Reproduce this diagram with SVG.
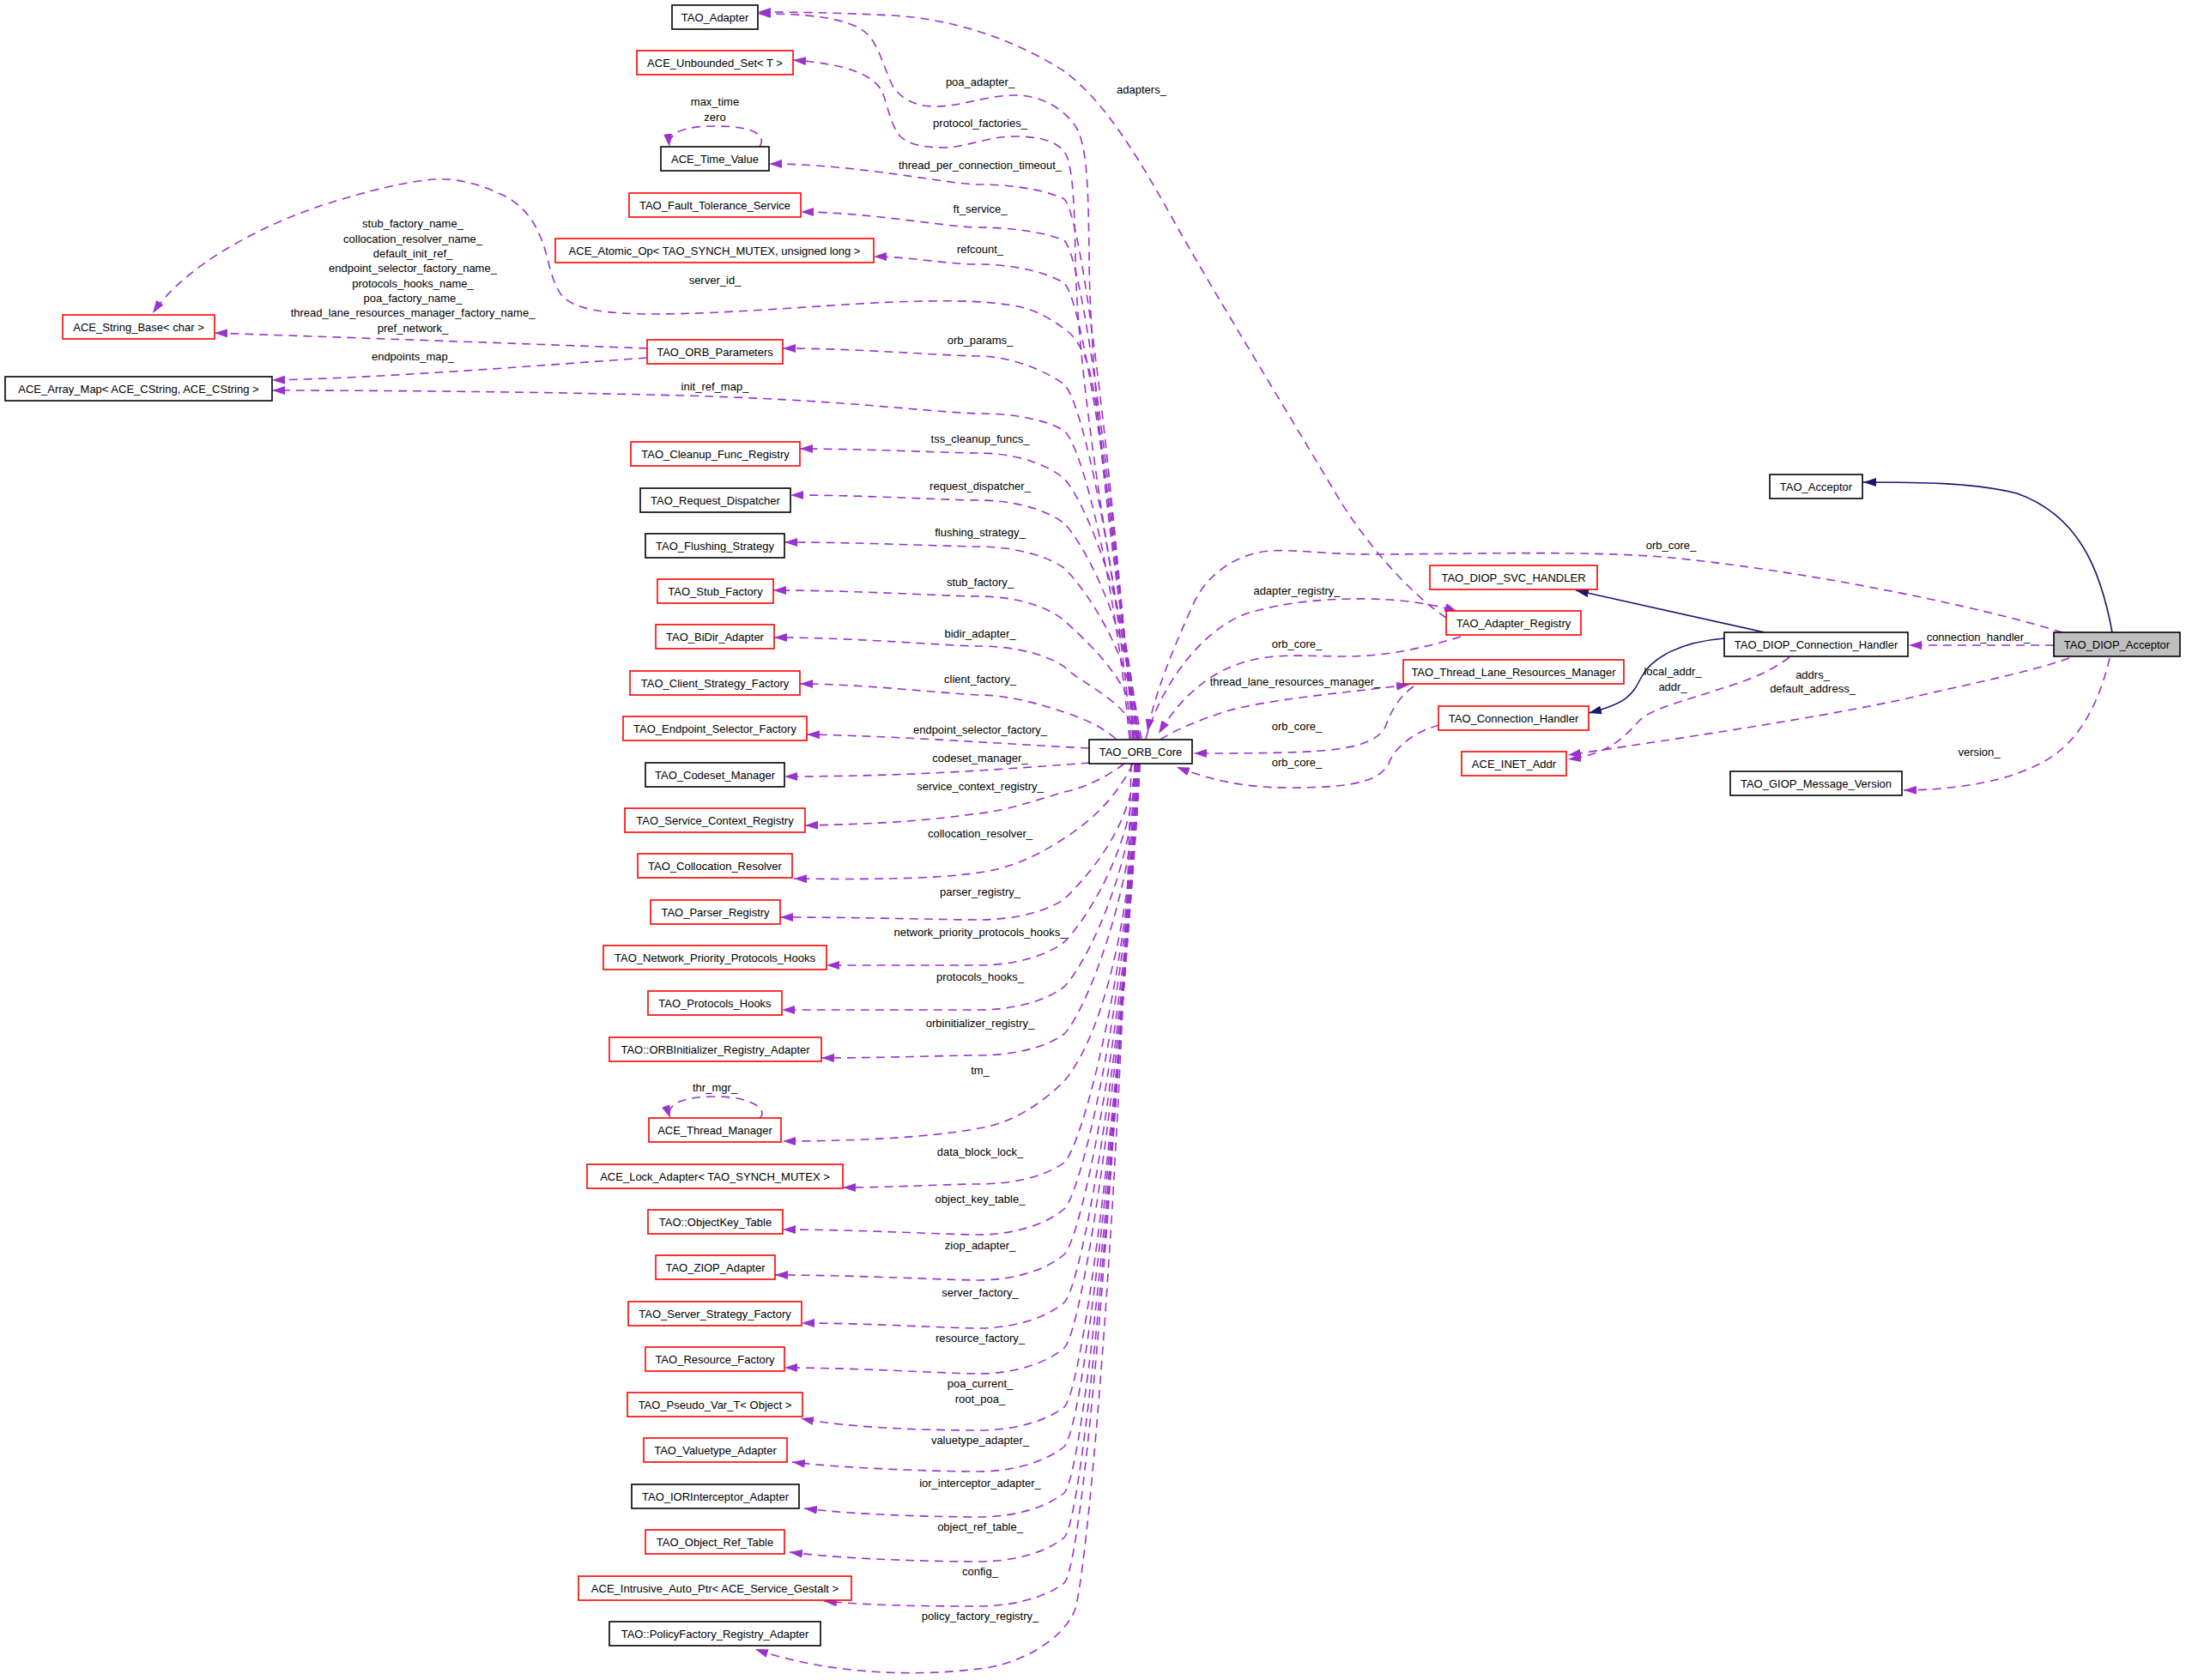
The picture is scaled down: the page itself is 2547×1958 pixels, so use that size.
<svg xmlns="http://www.w3.org/2000/svg" width="2547" height="1958" viewBox="0 0 2547 1958">
<style>
text{font-family:"Liberation Sans",Arial,sans-serif;font-size:13px;fill:#000}
.n text{text-anchor:middle}
.n rect{fill:#fff;stroke-width:1.6}
.r rect{stroke:#ff0000}
.k rect{stroke:#000}
.g rect{fill:#bfbfbf;stroke:#000}
.e{fill:none;stroke:#9a32cd;stroke-width:1.6;stroke-dasharray:10,7;marker-end:url(#ap)}
.s{fill:none;stroke:#191970;stroke-width:1.6;marker-end:url(#an)}
.l text{text-anchor:middle}
</style>
<defs>
<marker id="ap" viewBox="0 0 15 10" refX="15" refY="5" markerWidth="15" markerHeight="10" markerUnits="userSpaceOnUse" orient="auto"><path d="M0,0 L15,5 L0,10 z" fill="#9a32cd" stroke="none"/></marker>
<marker id="an" viewBox="0 0 15 10" refX="15" refY="5" markerWidth="15" markerHeight="10" markerUnits="userSpaceOnUse" orient="auto"><path d="M0,0 L15,5 L0,10 z" fill="#191970" stroke="none"/></marker>
</defs>
<rect width="2547" height="1958" fill="#fff"/>
<g id="edges">
<path class="e" d="M1330,861 C1300,700 1270,450 1269,300 C1268,230 1268,170 1253,147 C1240,128 1215,111 1183,111 C1150,111 1120,124 1090,124 C1065,124 1050,115 1040,100 C1030,80 1025,55 1011,40 C990,20 940,16 883,16"/>
<path class="e" d="M1328,861 C1300,700 1255,450 1253,300 C1252,240 1250,200 1243,182 C1235,165 1213,159 1183,159 C1150,159 1125,172 1100,172 C1075,172 1060,168 1050,160 C1038,148 1035,125 1028,107 C1018,88 990,75 924,70"/>
<path class="e" d="M1320,861 C1295,546 1262,254 1240,232 C1215,220 1175,215 1140,215 C1105,215 1000,191 896,191"/>
<path class="e" d="M1321,861 C1296,570 1262,302 1240,280 C1215,270 1175,265 1140,265 C1105,265 1010,247 933,247"/>
<path class="e" d="M1322,861 C1298,595 1262,352 1240,330 C1215,315 1175,308 1140,308 C1100,308 1060,299 1018,299"/>
<path class="e" d="M1325,861 C1300,700 1285,480 1267,423 C1258,400 1250,390 1240,383 C1215,365 1195,357 1173,355 C1140,350 1100,350 1040,352 C980,354 850,366 763,366 C700,366 670,360 655,345 C640,325 640,300 630,277 C620,250 600,232 580,225 C560,215 530,207 506,209 C470,212 430,222 373,240 C300,265 215,310 178,365"/>
<path class="e" d="M1318,861 C1300,654 1262,470 1240,448 C1215,430 1175,415 1140,415 C1105,415 1000,406 912,406"/>
<path class="e" d="M1316,861 C1300,680 1262,522 1240,502 C1215,487 1175,482 1140,482 C1080,480 1000,468 829,462 C700,458 500,455 317,455"/>
<path class="e" d="M754,406 C650,402 450,395 250,388"/>
<path class="e" d="M754,417 C600,428 450,440 317,443"/>
<path class="e" d="M885,171 C892,160 885,147 833,147 C795,147 778,155 780,171"/>
<path class="e" d="M1324,861 C1319,710 1262,580 1240,558 C1215,537 1175,528 1140,528 C1105,528 1010,523 932,523"/>
<path class="e" d="M1325,861 C1320,736 1262,632 1240,610 C1215,591 1175,583 1140,583 C1105,583 1010,577 921,577"/>
<path class="e" d="M1326,861 C1321,762 1262,684 1240,662 C1215,645 1175,637 1140,637 C1105,637 1010,632 914,632"/>
<path class="e" d="M1327,861 C1322,792 1262,745 1240,723 C1215,703 1175,695 1140,695 C1105,695 1000,688 901,688"/>
<path class="e" d="M1324,861 C1319,819 1262,799 1240,777 C1215,760 1175,753 1140,753 C1105,753 1000,743 902,743"/>
<path class="e" d="M1300,861 C1285,848 1265,838 1240,830 C1210,820 1175,810 1140,810 C1100,808 1000,797 932,797"/>
<path class="e" d="M1269,872 C1150,866 1050,858 940,856"/>
<path class="e" d="M1270,889 C1150,898 1050,905 914,905"/>
<path class="e" d="M1310,890 C1290,905 1265,918 1240,923 C1200,935 1170,945 1140,948 C1090,955 1040,960 938,962"/>
<path class="e" d="M1320,890 C1310,910 1290,945 1240,977 C1210,997 1175,1013 1140,1017 C1090,1025 1000,1025 925,1024"/>
<path class="e" d="M1323,890 C1318,969 1262,1026 1240,1048 C1215,1065 1175,1072 1140,1072 C1105,1072 1000,1069 909,1069"/>
<path class="e" d="M1324,890 C1319,994 1262,1076 1240,1098 C1215,1117 1175,1125 1140,1125 C1105,1125 1030,1125 963,1125"/>
<path class="e" d="M1325,890 C1320,1020 1262,1128 1240,1150 C1215,1169 1175,1177 1140,1177 C1105,1177 1000,1177 911,1177"/>
<path class="e" d="M1326,890 C1321,1047 1262,1183 1240,1205 C1215,1223 1175,1230 1140,1230 C1105,1230 1030,1233 957,1233"/>
<path class="e" d="M1326,890 C1320,1050 1290,1200 1240,1260 C1210,1290 1175,1310 1140,1315 C1090,1325 1000,1330 912,1330"/>
<path class="e" d="M885,1303 C895,1295 880,1278 833,1278 C795,1278 775,1287 781,1303"/>
<path class="e" d="M1327,890 C1317,1122 1262,1333 1240,1355 C1215,1373 1175,1380 1140,1380 C1105,1380 1040,1384 982,1384"/>
<path class="e" d="M1327,890 C1315,1150 1262,1387 1240,1409 C1215,1430 1175,1439 1140,1439 C1105,1439 1000,1433 912,1433"/>
<path class="e" d="M1328,890 C1314,1176 1262,1440 1240,1462 C1215,1483 1175,1492 1140,1492 C1105,1492 1000,1486 903,1486"/>
<path class="e" d="M1328,890 C1312,1204 1262,1496 1240,1518 C1215,1539 1175,1548 1140,1548 C1105,1548 1010,1542 934,1542"/>
<path class="e" d="M1328,890 C1310,1230 1262,1549 1240,1571 C1215,1592 1175,1601 1140,1601 C1105,1601 1000,1594 914,1594"/>
<path class="e" d="M1327,890 C1308,1265 1262,1618 1240,1640 C1215,1659 1175,1667 1140,1667 C1090,1667 990,1665 933,1653"/>
<path class="e" d="M1326,890 C1306,1288 1262,1664 1240,1686 C1215,1706 1175,1715 1140,1715 C1100,1715 990,1712 923,1704"/>
<path class="e" d="M1325,890 C1304,1315 1262,1718 1240,1740 C1215,1760 1175,1768 1140,1768 C1100,1768 1000,1766 937,1758"/>
<path class="e" d="M1324,890 C1302,1341 1262,1770 1240,1792 C1215,1812 1175,1820 1140,1820 C1100,1820 990,1818 920,1809"/>
<path class="e" d="M1322,890 C1300,1367 1262,1823 1240,1845 C1215,1864 1175,1872 1140,1872 C1100,1872 1020,1872 960,1866"/>
<path class="e" d="M1318,890 C1305,1400 1268,1820 1253,1875 C1240,1910 1190,1940 1140,1945 C1060,1955 960,1950 880,1922"/>
<path class="e" d="M1685,720 C1640,690 1590,630 1561,583 C1500,480 1420,350 1373,267 C1330,190 1290,120 1240,83 C1180,45 1110,22 1040,18 C980,15 930,14 883,14"/>
<path class="e" d="M2403,737 C2300,705 2100,665 1947,650 C1850,641 1700,646 1600,646 C1540,646 1510,640 1480,642 C1440,645 1405,670 1390,705 C1365,760 1345,810 1337,853"/>
<path class="e" d="M1335,861 C1355,790 1410,725 1460,713 C1520,695 1610,695 1655,703 C1675,706 1690,710 1698,713"/>
<path class="e" d="M1702,742 C1670,752 1620,765 1569,765 C1530,765 1500,762 1470,767 C1420,775 1380,805 1350,855"/>
<path class="e" d="M1352,862 C1370,850 1400,838 1432,828 C1480,815 1560,808 1642,798"/>
<path class="e" d="M1647,800 C1630,812 1620,830 1615,845 C1605,868 1570,875 1500,877 C1460,878 1420,878 1391,878"/>
<path class="e" d="M1677,845 C1650,852 1625,870 1618,890 C1605,915 1560,918 1500,918 C1440,918 1400,905 1371,894"/>
<path class="e" d="M2393,752 L2224,752"/>
<path class="e" d="M2411,767 C2360,785 2280,800 2231,812 C2130,835 1960,860 1827,880"/>
<path class="e" d="M2085,766 C2060,785 2030,795 2007,802 C1960,818 1925,825 1910,840 C1895,855 1880,878 1827,885"/>
<path class="e" d="M2458,767 C2448,810 2430,850 2400,875 C2370,900 2310,920 2218,921"/>
<path class="s" d="M2461,737 C2447,660 2420,600 2350,575 C2300,562 2230,562 2171,562"/>
<path class="s" d="M2056,737 L1836,688"/>
<path class="s" d="M2009,744 C1960,748 1925,765 1912,790 C1902,810 1895,820 1851,831"/>
</g>
<g id="edge-labels" class="l">
<text x="1142" y="100">poa_adapter_</text>
<text x="1142" y="148">protocol_factories_</text>
<text x="1142" y="197">thread_per_connection_timeout_</text>
<text x="1142" y="248">ft_service_</text>
<text x="1142" y="295">refcount_</text>
<text x="833" y="331">server_id_</text>
<text x="1142" y="401">orb_params_</text>
<text x="833" y="455">init_ref_map_</text>
<text x="481" y="265">stub_factory_name_</text>
<text x="481" y="283">collocation_resolver_name_</text>
<text x="481" y="300">default_init_ref_</text>
<text x="481" y="317">endpoint_selector_factory_name_</text>
<text x="481" y="335">protocols_hooks_name_</text>
<text x="481" y="352">poa_factory_name_</text>
<text x="481" y="369">thread_lane_resources_manager_factory_name_</text>
<text x="481" y="387">pref_network_</text>
<text x="481" y="420">endpoints_map_</text>
<text x="833" y="123">max_time</text>
<text x="833" y="141">zero</text>
<text x="1142" y="516">tss_cleanup_funcs_</text>
<text x="1142" y="571">request_dispatcher_</text>
<text x="1142" y="625">flushing_strategy_</text>
<text x="1142" y="683">stub_factory_</text>
<text x="1142" y="743">bidir_adapter_</text>
<text x="1142" y="796">client_factory_</text>
<text x="1142" y="855">endpoint_selector_factory_</text>
<text x="1142" y="888">codeset_manager_</text>
<text x="1142" y="921">service_context_registry_</text>
<text x="1142" y="976">collocation_resolver_</text>
<text x="1142" y="1044">parser_registry_</text>
<text x="1142" y="1091">network_priority_protocols_hooks_</text>
<text x="1142" y="1143">protocols_hooks_</text>
<text x="1142" y="1197">orbinitializer_registry_</text>
<text x="1142" y="1252">tm_</text>
<text x="833" y="1272">thr_mgr_</text>
<text x="1142" y="1347">data_block_lock_</text>
<text x="1142" y="1402">object_key_table_</text>
<text x="1142" y="1456">ziop_adapter_</text>
<text x="1142" y="1511">server_factory_</text>
<text x="1142" y="1564">resource_factory_</text>
<text x="1142" y="1617">poa_current_</text>
<text x="1142" y="1635">root_poa_</text>
<text x="1142" y="1683">valuetype_adapter_</text>
<text x="1142" y="1733">ior_interceptor_adapter_</text>
<text x="1142" y="1784">object_ref_table_</text>
<text x="1142" y="1836">config_</text>
<text x="1142" y="1888">policy_factory_registry_</text>
<text x="1330" y="109">adapters_</text>
<text x="1947" y="640">orb_core_</text>
<text x="1511" y="693">adapter_registry_</text>
<text x="1511" y="755">orb_core_</text>
<text x="1509" y="799">thread_lane_resources_manager_</text>
<text x="1511" y="851">orb_core_</text>
<text x="1511" y="893">orb_core_</text>
<text x="2305" y="747">connection_handler_</text>
<text x="1949" y="787">local_addr_</text>
<text x="1949" y="805">addr_</text>
<text x="2112" y="791">addrs_</text>
<text x="2112" y="807">default_address_</text>
<text x="2306" y="881">version_</text>
</g>
<g id="TAO_Adapter" class="n k"><rect x="783" y="6" width="100" height="28"/><text x="833" y="24.5">TAO_Adapter</text></g>
<g id="ACE_Unbounded_Set" class="n r"><rect x="742" y="59" width="182" height="28"/><text x="833" y="77.5">ACE_Unbounded_Set&lt; T &gt;</text></g>
<g id="ACE_Time_Value" class="n k"><rect x="770" y="171" width="126" height="28"/><text x="833" y="189.5">ACE_Time_Value</text></g>
<g id="TAO_Fault_Tolerance_Service" class="n r"><rect x="733" y="225" width="200" height="28"/><text x="833" y="243.5">TAO_Fault_Tolerance_Service</text></g>
<g id="ACE_Atomic_Op" class="n r"><rect x="647" y="278" width="371" height="28"/><text x="832.5" y="296.5">ACE_Atomic_Op&lt; TAO_SYNCH_MUTEX, unsigned long &gt;</text></g>
<g id="ACE_String_Base" class="n r"><rect x="73" y="367" width="177" height="28"/><text x="161.5" y="385.5">ACE_String_Base&lt; char &gt;</text></g>
<g id="TAO_ORB_Parameters" class="n r"><rect x="754" y="396" width="158" height="28"/><text x="833" y="414.5">TAO_ORB_Parameters</text></g>
<g id="ACE_Array_Map" class="n k"><rect x="6" y="439" width="311" height="28"/><text x="161.5" y="457.5">ACE_Array_Map&lt; ACE_CString, ACE_CString &gt;</text></g>
<g id="TAO_Cleanup_Func_Registry" class="n r"><rect x="735" y="515" width="197" height="28"/><text x="833.5" y="533.5">TAO_Cleanup_Func_Registry</text></g>
<g id="TAO_Request_Dispatcher" class="n k"><rect x="746" y="569" width="175" height="28"/><text x="833.5" y="587.5">TAO_Request_Dispatcher</text></g>
<g id="TAO_Flushing_Strategy" class="n k"><rect x="752" y="622" width="162" height="28"/><text x="833" y="640.5">TAO_Flushing_Strategy</text></g>
<g id="TAO_Stub_Factory" class="n r"><rect x="766" y="675" width="135" height="28"/><text x="833.5" y="693.5">TAO_Stub_Factory</text></g>
<g id="TAO_BiDir_Adapter" class="n r"><rect x="764" y="728" width="138" height="28"/><text x="833" y="746.5">TAO_BiDir_Adapter</text></g>
<g id="TAO_Client_Strategy_Factory" class="n r"><rect x="734" y="782" width="198" height="28"/><text x="833" y="800.5">TAO_Client_Strategy_Factory</text></g>
<g id="TAO_Endpoint_Selector_Factory" class="n r"><rect x="726" y="835" width="214" height="28"/><text x="833" y="853.5">TAO_Endpoint_Selector_Factory</text></g>
<g id="TAO_Codeset_Manager" class="n k"><rect x="752" y="889" width="162" height="28"/><text x="833" y="907.5">TAO_Codeset_Manager</text></g>
<g id="TAO_Service_Context_Registry" class="n r"><rect x="728" y="942" width="210" height="28"/><text x="833" y="960.5">TAO_Service_Context_Registry</text></g>
<g id="TAO_Collocation_Resolver" class="n r"><rect x="743" y="995" width="180" height="28"/><text x="833" y="1013.5">TAO_Collocation_Resolver</text></g>
<g id="TAO_Parser_Registry" class="n r"><rect x="758" y="1049" width="151" height="28"/><text x="833.5" y="1067.5">TAO_Parser_Registry</text></g>
<g id="TAO_Network_Priority_Protocols_Hooks" class="n r"><rect x="703" y="1102" width="260" height="28"/><text x="833" y="1120.5">TAO_Network_Priority_Protocols_Hooks</text></g>
<g id="TAO_Protocols_Hooks" class="n r"><rect x="755" y="1155" width="156" height="28"/><text x="833" y="1173.5">TAO_Protocols_Hooks</text></g>
<g id="TAO_ORBInitializer_Registry_Adapter" class="n r"><rect x="710" y="1209" width="247" height="28"/><text x="833.5" y="1227.5">TAO::ORBInitializer_Registry_Adapter</text></g>
<g id="ACE_Thread_Manager" class="n r"><rect x="756" y="1303" width="154" height="28"/><text x="833" y="1321.5">ACE_Thread_Manager</text></g>
<g id="ACE_Lock_Adapter" class="n r"><rect x="684" y="1357" width="298" height="28"/><text x="833" y="1375.5">ACE_Lock_Adapter&lt; TAO_SYNCH_MUTEX &gt;</text></g>
<g id="TAO_ObjectKey_Table" class="n r"><rect x="755" y="1410" width="157" height="28"/><text x="833.5" y="1428.5">TAO::ObjectKey_Table</text></g>
<g id="TAO_ZIOP_Adapter" class="n r"><rect x="764" y="1463" width="139" height="28"/><text x="833.5" y="1481.5">TAO_ZIOP_Adapter</text></g>
<g id="TAO_Server_Strategy_Factory" class="n r"><rect x="732" y="1517" width="202" height="28"/><text x="833" y="1535.5">TAO_Server_Strategy_Factory</text></g>
<g id="TAO_Resource_Factory" class="n r"><rect x="752" y="1570" width="162" height="28"/><text x="833" y="1588.5">TAO_Resource_Factory</text></g>
<g id="TAO_Pseudo_Var_T" class="n r"><rect x="731" y="1623" width="204" height="28"/><text x="833" y="1641.5">TAO_Pseudo_Var_T&lt; Object &gt;</text></g>
<g id="TAO_Valuetype_Adapter" class="n r"><rect x="750" y="1676" width="167" height="28"/><text x="833.5" y="1694.5">TAO_Valuetype_Adapter</text></g>
<g id="TAO_IORInterceptor_Adapter" class="n k"><rect x="736" y="1730" width="195" height="28"/><text x="833.5" y="1748.5">TAO_IORInterceptor_Adapter</text></g>
<g id="TAO_Object_Ref_Table" class="n r"><rect x="752" y="1783" width="162" height="28"/><text x="833" y="1801.5">TAO_Object_Ref_Table</text></g>
<g id="ACE_Intrusive_Auto_Ptr" class="n r"><rect x="674" y="1837" width="318" height="28"/><text x="833" y="1855.5">ACE_Intrusive_Auto_Ptr&lt; ACE_Service_Gestalt &gt;</text></g>
<g id="TAO_PolicyFactory_Registry_Adapter" class="n k"><rect x="710" y="1890" width="246" height="28"/><text x="833" y="1908.5">TAO::PolicyFactory_Registry_Adapter</text></g>
<g id="TAO_ORB_Core" class="n k"><rect x="1269" y="862" width="120" height="28"/><text x="1329" y="880.5">TAO_ORB_Core</text></g>
<g id="TAO_Acceptor" class="n k"><rect x="2062" y="553" width="108" height="28"/><text x="2116" y="571.5">TAO_Acceptor</text></g>
<g id="TAO_DIOP_SVC_HANDLER" class="n r"><rect x="1666" y="659" width="195" height="28"/><text x="1763.5" y="677.5">TAO_DIOP_SVC_HANDLER</text></g>
<g id="TAO_Adapter_Registry" class="n r"><rect x="1685" y="712" width="157" height="28"/><text x="1763.5" y="730.5">TAO_Adapter_Registry</text></g>
<g id="TAO_Thread_Lane_Resources_Manager" class="n r"><rect x="1635" y="769" width="257" height="28"/><text x="1763.5" y="787.5">TAO_Thread_Lane_Resources_Manager</text></g>
<g id="TAO_Connection_Handler" class="n r"><rect x="1676" y="823" width="175" height="28"/><text x="1763.5" y="841.5">TAO_Connection_Handler</text></g>
<g id="ACE_INET_Addr" class="n r"><rect x="1703" y="876" width="122" height="28"/><text x="1764" y="894.5">ACE_INET_Addr</text></g>
<g id="TAO_DIOP_Connection_Handler" class="n k"><rect x="2009" y="737" width="214" height="28"/><text x="2116" y="755.5">TAO_DIOP_Connection_Handler</text></g>
<g id="TAO_DIOP_Acceptor" class="n g"><rect x="2393" y="737" width="147" height="28"/><text x="2466.5" y="755.5">TAO_DIOP_Acceptor</text></g>
<g id="TAO_GIOP_Message_Version" class="n k"><rect x="2016" y="899" width="200" height="28"/><text x="2116" y="917.5">TAO_GIOP_Message_Version</text></g>
</svg>
